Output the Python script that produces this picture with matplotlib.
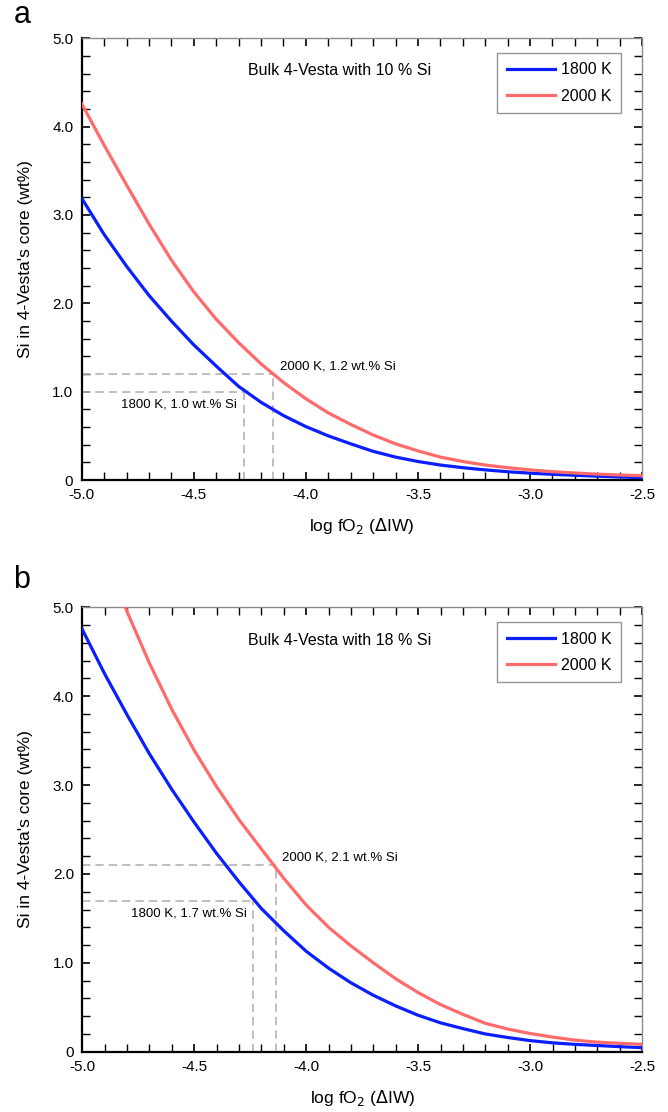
import numpy as np
import matplotlib
matplotlib.use("Agg")
import matplotlib.pyplot as plt
from matplotlib.ticker import MultipleLocator, FuncFormatter

plt.rcParams['font.family'] = ['Liberation Sans', 'DejaVu Sans']
plt.rcParams['axes.unicode_minus'] = False

# log fO2 grid (read every 0.1)
log_fo2 = [-5.0, -4.9, -4.8, -4.7, -4.6, -4.5, -4.4, -4.3, -4.2, -4.1, -4.0,
           -3.9, -3.8, -3.7, -3.6, -3.5, -3.4, -3.3, -3.2, -3.1, -3.0,
           -2.9, -2.8, -2.7, -2.6, -2.5]

# panel a: bulk with 10 % Si
a_1800 = [3.19, 2.78, 2.42, 2.09, 1.80, 1.53, 1.29, 1.06, 0.88, 0.73, 0.605,
          0.50, 0.41, 0.325, 0.26, 0.21, 0.17, 0.14, 0.115, 0.094, 0.078,
          0.065, 0.054, 0.044, 0.035, 0.027]
a_2000 = [4.26, 3.79, 3.34, 2.90, 2.49, 2.13, 1.82, 1.555, 1.315, 1.105, 0.92,
          0.76, 0.63, 0.51, 0.41, 0.33, 0.26, 0.21, 0.17, 0.14, 0.115,
          0.095, 0.080, 0.067, 0.057, 0.050]

# panel b: bulk with 18 % Si
b_1800 = [4.75, 4.25, 3.79, 3.35, 2.95, 2.58, 2.23, 1.91, 1.61, 1.36, 1.13,
          0.94, 0.775, 0.635, 0.515, 0.41, 0.325, 0.26, 0.20, 0.16, 0.125,
          0.10, 0.083, 0.070, 0.057, 0.046]
b_2000 = [6.25, 5.58, 4.95, 4.37, 3.85, 3.39, 2.98, 2.61, 2.28, 1.95, 1.65,
          1.40, 1.19, 1.00, 0.82, 0.665, 0.53, 0.42, 0.32, 0.255, 0.205,
          0.165, 0.13, 0.108, 0.095, 0.083]

# marked points: (logfO2, wt% Si)
a_marks = [(-4.277, 1.0), (-4.147, 1.2)]
a_texts = ["1800 K, 1.0 wt.% Si", "2000 K, 1.2 wt.% Si"]
b_marks = [(-4.236, 1.7), (-4.136, 2.1)]
b_texts = ["1800 K, 1.7 wt.% Si", "2000 K, 2.1 wt.% Si"]

blue = '#0a1eff'
red = '#ff6b6b'
dash_c = '#b4b4b4'

fig = plt.figure(figsize=(6.68, 11.12), dpi=100)
ax_a = fig.add_axes([0.1223, 0.5683, 0.839, 0.3973])
ax_b = fig.add_axes([0.1232, 0.0542, 0.838, 0.3997])


def style_axes(ax):
    ax.set_xlim(-5.0, -2.5)
    ax.set_ylim(0, 5.0)
    ax.xaxis.set_major_locator(MultipleLocator(0.5))
    ax.xaxis.set_minor_locator(MultipleLocator(0.1))
    ax.yaxis.set_major_locator(MultipleLocator(1.0))
    ax.yaxis.set_minor_locator(MultipleLocator(0.2))
    ax.yaxis.set_major_formatter(FuncFormatter(lambda v, p: '0' if v == 0 else '%.1f' % v))
    ax.xaxis.set_major_formatter(FuncFormatter(lambda v, p: '%.1f' % v))
    for s in ['left', 'bottom']:
        ax.spines[s].set_color('black')
        ax.spines[s].set_linewidth(1.6)
    for s in ['top', 'right']:
        ax.spines[s].set_color('#8c8c8c')
        ax.spines[s].set_linewidth(1.0)
    ax.tick_params(which='both', direction='in', top=True, right=True,
                   labelsize=11, pad=6)
    ax.tick_params(which='major', length=6, width=1.2)
    ax.tick_params(which='minor', length=6, width=1.0)
    ax.set_xlabel('log fO$_2$ ($\\Delta$IW)', fontsize=12.5, labelpad=10)
    ax.set_ylabel("Si in 4-Vesta's core (wt%)", fontsize=12.5, labelpad=14)


def draw(ax, y1800, y2000, marks, texts, title):
    ax.plot(log_fo2, y1800, color=blue, lw=2.3, label='1800 K', zorder=3)
    ax.plot(log_fo2, y2000, color=red, lw=2.3, label='2000 K', zorder=3)
    for (x, y) in marks:
        ax.plot([-5.0, x], [y, y], color=dash_c, lw=1.2, ls=(0, (5, 3)), zorder=2)
        ax.plot([x, x], [0, y], color=dash_c, lw=1.2, ls=(0, (5, 3)), zorder=2)
    (x1, y1), (x2, y2) = marks
    ax.text(x1 - 0.03, y1 - 0.14, texts[0], fontsize=9.5, ha='right', va='center')
    ax.text(x2 + 0.03, y2 + 0.08, texts[1], fontsize=9.5, ha='left', va='center')
    ax.text(-4.26, 4.63, title, fontsize=11.5, ha='left', va='center')
    leg = ax.legend(loc='upper right', bbox_to_anchor=(0.963, 0.967), fontsize=11.5,
                    frameon=True, fancybox=False, edgecolor='#7a7a7a',
                    handlelength=3.0, handletextpad=0.4, borderpad=0.6,
                    labelspacing=0.7, borderaxespad=0)
    leg.get_frame().set_linewidth(1.0)
    style_axes(ax)


draw(ax_a, a_1800, a_2000, a_marks, a_texts, 'Bulk 4-Vesta with 10 % Si')
draw(ax_b, b_1800, b_2000, b_marks, b_texts, 'Bulk 4-Vesta with 18 % Si')

fig.text(22 / 668, 1 - 15 / 1112, 'a', fontsize=22, ha='center', va='center')
fig.text(22 / 668, 1 - 580 / 1112, 'b', fontsize=22, ha='center', va='center')

fig.savefig('out.png', dpi=100)
